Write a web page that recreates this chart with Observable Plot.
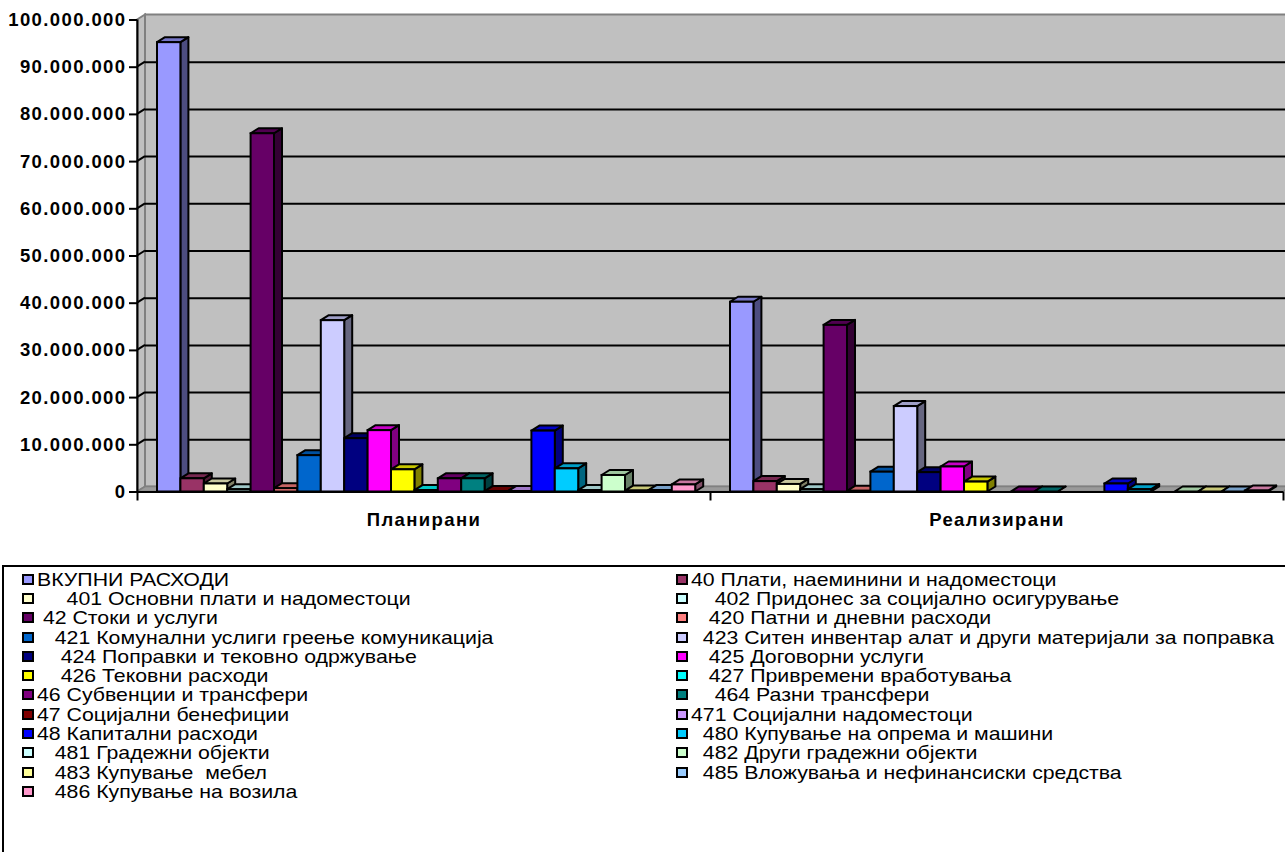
<!DOCTYPE html>
<html><head><meta charset="utf-8">
<script src="https://cdn.jsdelivr.net/npm/d3@7"></script>
<script src="https://cdn.jsdelivr.net/npm/@observablehq/plot@0.6"></script>
<style>
html,body{margin:0;padding:0;background:#fff;overflow:hidden;width:1285px;height:852px}
#chart{position:absolute;left:0;top:0}
#chart svg text{letter-spacing:1.4px}
#legend{position:absolute;left:2px;top:565px;width:1320px;height:320px;border:2px solid #000;box-sizing:border-box;font-family:"Liberation Sans",Arial,sans-serif;font-size:19px;color:#000;background:#fff}
.item{position:absolute;height:19.3px;display:flex;align-items:center}
.sw{width:8px;height:7px;border:2px solid #000;flex:none;margin-right:3px}
.tx{display:inline-block;white-space:pre;transform:scaleX(1.12);transform-origin:0 50%;line-height:19px}
</style></head><body>
<div id="chart"></div><div id="legend"></div>
<script>
const categories = ["Планирани", "Реализирани"];
const series = [
  "ВКУПНИ РАСХОДИ",
  "40 Плати, наеминини и надоместоци",
  "     401 Основни плати и надоместоци",
  "    402 Придонес за социјално осигурување",
  " 42 Стоки и услуги",
  "   420 Патни и дневни расходи",
  "   421 Комунални услиги греење комуникација",
  "  423 Ситен инвентар алат и други материјали за поправка",
  "    424 Поправки и тековно одржување",
  "   425 Договорни услуги",
  "    426 Тековни расходи",
  "   427 Привремени вработувања",
  "46 Субвенции и трансфери",
  "    464 Разни трансфери",
  "47 Социјални бенефиции",
  "471 Социјални надоместоци",
  "48 Капитални расходи",
  "  480 Купување на опрема и машини",
  "   481 Градежни објекти",
  "  482 Други градежни објекти",
  "   483 Купување  мебел",
  "  485 Вложувања и нефинансиски средства",
  "   486 Купување на возила"
];
const colors = [
  "#9999FF", "#993366", "#FFFFCC", "#CCFFFF", "#660066", "#FF8080",
  "#0066CC", "#CCCCFF", "#000080", "#FF00FF", "#FFFF00", "#00FFFF",
  "#800080", "#008080", "#800000", "#CC99FF", "#0000FF", "#00CCFF",
  "#CCFFFF", "#CCFFCC", "#FFFF99", "#99CCFF", "#FF99CC"
];
const planned = [
  95200000, 2800000, 1700000, 500000, 75900000, 700000,
  7700000, 36300000, 11300000, 13000000, 4700000, 300000,
  2800000, 2800000, 100000, 100000, 12900000, 4900000,
  300000, 3500000, 200000, 300000, 1500000
];
const realized = [
  40200000, 2200000, 1600000, 500000, 35300000, 150000,
  4200000, 18100000, 4100000, 5300000, 2100000, null,
  0, 0, null, null, 1700000, 500000,
  null, 0, 0, 0, 200000
];
const yTicks = [0, 10000000, 20000000, 30000000, 40000000, 50000000, 60000000, 70000000, 80000000, 90000000, 100000000];

// layout constants (category units: each category spans 1 on x)
const PAD_L = 20 / 573, BW = 23.4 / 573;
const DX = 8, DY = 5;

const rows = [];
categories.forEach((cat, c) => {
  const vals = c === 0 ? planned : realized;
  series.forEach((s, i) => {
    if (vals[i] == null) return;
    rows.push({category: cat, series: s, value: vals[i], x1: c + PAD_L + i * BW, x2: c + PAD_L + (i + 1) * BW});
  });
});

const fmt = d3.formatLocale({decimal: ",", thousands: ".", grouping: [3], currency: ["", ""]}).format(",d");
const shade = (col, k) => { const c = d3.rgb(col); return d3.rgb(c.r * k, c.g * k, c.b * k).formatHex(); };

function walls(index, scales) {
  const {x, y} = scales;
  const x0 = x(0), x1 = x(2), y0 = y(0), yT = y(100000000);
  const g = d3.create("svg:g");
  g.append("rect").attr("x", x0 + DX).attr("y", yT - DY).attr("width", x1 - x0).attr("height", y0 - yT)
    .attr("fill", "#c0c0c0").attr("stroke", "#808080").attr("stroke-width", 2);
  g.append("path").attr("d", `M${x0},${yT}L${x0 + DX},${yT - DY}L${x0 + DX},${y0 - DY}L${x0},${y0}Z`)
    .attr("fill", "#c0c0c0").attr("stroke", "#808080").attr("stroke-width", 2);
  g.append("path").attr("d", `M${x0},${y0}L${x0 + DX},${y0 - DY}L${x1 + DX},${y0 - DY}L${x1},${y0}Z`)
    .attr("fill", "#9a9a9a").attr("stroke", "#808080").attr("stroke-width", 1.5);
  for (const t of yTicks) {
    if (t === 0 || t === 100000000) continue;
    g.append("line").attr("x1", x0).attr("y1", y(t)).attr("x2", x0 + DX).attr("y2", y(t) - DY)
      .attr("stroke", "#000").attr("stroke-width", 2);
  }
  return g.node();
}

function faces(index, scales) {
  const {x, y, color} = scales;
  const g = d3.create("svg:g").attr("stroke", "#000").attr("stroke-width", 2).attr("stroke-linejoin", "round");
  for (const d of rows) {
    const xl = x(d.x1), xr = x(d.x2), yt = y(d.value), yb = y(0);
    const c = color(d.series);
    g.append("path").attr("d", `M${xr},${yt}L${xr + DX},${yt - DY}L${xr + DX},${yb - DY}L${xr},${yb}Z`).attr("fill", shade(c, 0.5));
    g.append("path").attr("d", `M${xl},${yt}L${xl + DX},${yt - DY}L${xr + DX},${yt - DY}L${xr},${yt}Z`).attr("fill", shade(c, 0.78));
  }
  return g.node();
}

const chart = Plot.plot({
  width: 1285,
  height: 545,
  marginLeft: 137,
  marginRight: 2,
  marginTop: 19.5,
  marginBottom: 53.5,
  x: {type: "linear", domain: [0, 2], label: null},
  y: {domain: [0, 100000000], label: null},
  color: {domain: series, range: colors},
  style: {fontFamily: "'Liberation Sans', Arial, sans-serif", fontSize: "18px", background: "white", color: "black"},
  marks: [
    walls,
    Plot.ruleY(yTicks.filter(t => t > 0 && t < 100000000), {dx: DX, dy: -DY, stroke: "#000", strokeWidth: 2}),
    faces,
    Plot.rect(rows, {x1: "x1", x2: "x2", y1: d => 0, y2: "value", fill: "series", stroke: "#000", strokeWidth: 2}),
    Plot.ruleY([0], {stroke: "#000", strokeWidth: 2}),
    Plot.ruleX([0], {stroke: "#000", strokeWidth: 2}),
    Plot.axisY(yTicks, {tickFormat: fmt, tickSize: 8, tickPadding: 3, strokeWidth: 2, fontWeight: "bold", fontSize: 18.5}),
    Plot.axisX([0, 1, 2], {tickSize: 9, tickFormat: () => "", strokeWidth: 2}),
    Plot.axisX([0.5, 1.5], {tickSize: 0, tickPadding: 21, tickFormat: v => categories[Math.floor(v)], fontWeight: "bold", fontSize: 18.5})
  ]
});
document.getElementById("chart").append(chart);

// legend
const legend = document.getElementById("legend");
series.forEach((s, i) => {
  const col = i % 2, row = Math.floor(i / 2);
  const item = document.createElement("div");
  item.className = "item";
  item.style.left = (col === 0 ? 18 : 672) + "px";
  item.style.top = (2.5 + row * 19.3) + "px";
  const sw = document.createElement("span");
  sw.className = "sw";
  sw.style.background = colors[i];
  const tx = document.createElement("span");
  tx.className = "tx";
  tx.textContent = s;
  item.append(sw, tx);
  legend.append(item);
});
</script>
</body></html>
